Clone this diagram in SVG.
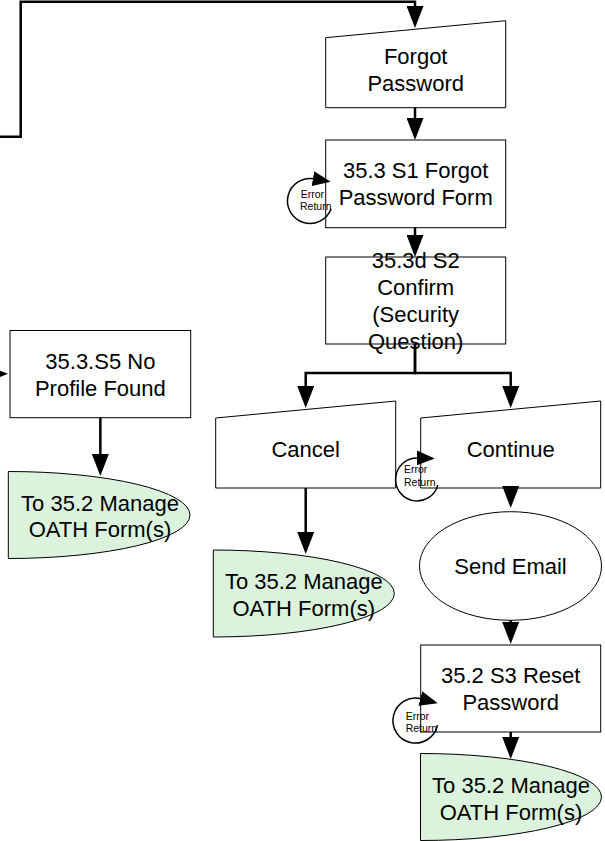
<svg xmlns="http://www.w3.org/2000/svg" width="605" height="841" viewBox="0 0 605 841">
<style>
text{font-family:"Liberation Sans",Arial,Helvetica,sans-serif;fill:#000}
.t{font-size:22px;text-anchor:middle}
.s{font-size:10.5px}
.box{fill:#fff;stroke:#000;stroke-width:1}
.term{fill:#dbf2dc;stroke:#000;stroke-width:1}
.c{fill:none;stroke:#000;stroke-width:2.5;stroke-linejoin:miter;marker-end:url(#ah)}
.lp{fill:none;stroke:#000;stroke-width:1.5;marker-end:url(#ahs)}
</style>
<defs>
<marker id="ah" markerUnits="userSpaceOnUse" markerWidth="22" markerHeight="17" refX="12" refY="8.5" orient="auto"><path d="M0,0 L22,8.5 L0,17 z" fill="#000"/></marker>
<marker id="ahs" markerUnits="userSpaceOnUse" markerWidth="18" markerHeight="15" refX="1" refY="7.5" orient="auto"><path d="M0,0 L18,7.5 L0,15 z" fill="#000"/></marker>
</defs>
<rect width="605" height="841" fill="#fff"/>

<g id="forgot-password">
<path class="box" d="M325.7,37.7 L505.7,20.7 L505.7,107.7 L325.7,107.7 Z"/>
<text class="t" x="415.7" y="64">Forgot</text>
<text class="t" x="415.7" y="91">Password</text>
</g>

<g id="s1-forgot-password-form">
<rect class="box" x="325.7" y="140" width="180" height="87.7"/>
<text class="t" x="415.7" y="178">35.3 S1 Forgot</text>
<text class="t" x="415.7" y="205">Password Form</text>
</g>

<g id="s2-confirm">
<rect class="box" x="325.7" y="257" width="180" height="87"/>
<text class="t" x="415.7" y="268">35.3d S2</text>
<text class="t" x="415.7" y="295">Confirm</text>
<text class="t" x="415.7" y="322">(Security</text>
<text class="t" x="415.7" y="349">Question)</text>
</g>

<g id="s5-no-profile">
<rect class="box" x="10" y="330.5" width="180.7" height="87.2"/>
<text class="t" x="100.35" y="368.5">35.3.S5 No</text>
<text class="t" x="100.35" y="395.5">Profile Found</text>
</g>

<g id="to-manage-left">
<path class="term" d="M8.3,471.5 A181.7,43.5 0 0 1 190,515 A181.7,43.5 0 0 1 8.3,558.5 Z"/>
<text class="t" x="100" y="510.5">To 35.2 Manage</text>
<text class="t" x="100" y="537">OATH Form(s)</text>
</g>

<g id="cancel">
<path class="box" d="M215.7,418 L395.7,401 L395.7,488 L215.7,488 Z"/>
<text class="t" x="305.7" y="457">Cancel</text>
</g>

<g id="continue">
<path class="box" d="M420.7,418 L600.7,401 L600.7,488 L420.7,488 Z"/>
<text class="t" x="510.7" y="457">Continue</text>
</g>

<g id="to-manage-middle">
<path class="term" d="M213.3,550 A181,43.5 0 0 1 394.3,593.5 A181,43.5 0 0 1 213.3,637 Z"/>
<text class="t" x="303.8" y="589">To 35.2 Manage</text>
<text class="t" x="303.8" y="616">OATH Form(s)</text>
</g>

<g id="send-email">
<ellipse class="box" cx="510.5" cy="566" rx="91" ry="54.3"/>
<text class="t" x="510.5" y="573.7">Send Email</text>
</g>

<g id="s3-reset-password">
<rect class="box" x="420.7" y="645" width="180" height="87"/>
<text class="t" x="510.7" y="682.7">35.2 S3 Reset</text>
<text class="t" x="510.7" y="709.7">Password</text>
</g>

<g id="to-manage-bottom">
<path class="term" d="M420.5,753.5 A181,43.5 0 0 1 601.5,797 A181,43.5 0 0 1 420.5,840.5 Z"/>
<text class="t" x="511" y="792.5">To 35.2 Manage</text>
<text class="t" x="511" y="820">OATH Form(s)</text>
</g>

<g id="connectors">
<path class="c" d="M0,136.7 H20.7 V1.7 H415 V18"/>
<path class="c" d="M415,107.7 V130"/>
<path class="c" d="M415,227.7 V247"/>
<path class="c" d="M415,344 V373 H305.7 V398"/>
<path class="c" d="M415,344 V373 H510.7 V398"/>
<path class="c" d="M305.7,488 V544"/>
<path class="c" d="M100.35,417.7 V466"/>
<path class="c" d="M-40,373.85 H-2"/>
<path class="c" d="M510.7,488 V498"/>
<path class="c" d="M510.7,620.3 V634"/>
<path class="c" d="M510.7,732 V749"/>

<path class="lp" d="M331.1,208.7 A22.5,22.5 0 1 1 313.9,178.8"/>
<text class="s" x="300.7" y="198">Error</text>
<text class="s" x="300" y="210">Return</text>

<path class="lp" d="M437.8,485.1 A21.5,21.5 0 1 1 417.75,458"/>
<text class="s" x="404" y="473.3">Error</text>
<text class="s" x="404" y="486">Return</text>

<path class="lp" d="M437.5,725.2 A22.5,22.5 0 1 1 421.3,698.8"/>
<text class="s" x="405.7" y="720">Error</text>
<text class="s" x="405.7" y="731.7">Return</text>
</g>
</svg>
